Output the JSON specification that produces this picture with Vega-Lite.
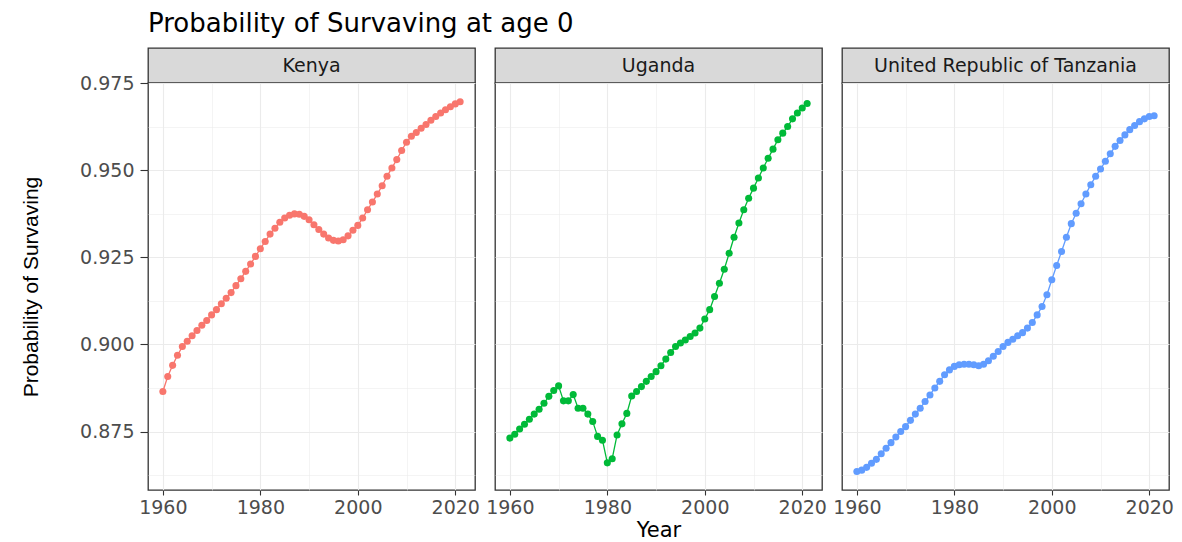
{
  "$schema": "https://vega.github.io/schema/vega-lite/v6.json",
  "background": "white",
  "padding": {"left": 19, "top": 11, "right": 5, "bottom": 5},
  "title": {"text": "Probability of Survaving at age 0", "anchor": "start", "frame": "group", "font": "DejaVu Sans", "fontSize": 26, "fontWeight": "normal", "color": "#000000", "offset": 10},
  "data": {"values": [
    {"country":"Kenya","year":1960,"p":0.8865},{"country":"Kenya","year":1961,"p":0.8908},{"country":"Kenya","year":1962,"p":0.8940},{"country":"Kenya","year":1963,"p":0.8969},{"country":"Kenya","year":1964,"p":0.8994},{"country":"Kenya","year":1965,"p":0.9009},{"country":"Kenya","year":1966,"p":0.9025},{"country":"Kenya","year":1967,"p":0.9040},{"country":"Kenya","year":1968,"p":0.9055},{"country":"Kenya","year":1969,"p":0.9069},
    {"country":"Kenya","year":1970,"p":0.9085},{"country":"Kenya","year":1971,"p":0.9100},{"country":"Kenya","year":1972,"p":0.9117},{"country":"Kenya","year":1973,"p":0.9133},{"country":"Kenya","year":1974,"p":0.9149},{"country":"Kenya","year":1975,"p":0.9169},{"country":"Kenya","year":1976,"p":0.9189},{"country":"Kenya","year":1977,"p":0.9210},{"country":"Kenya","year":1978,"p":0.9231},{"country":"Kenya","year":1979,"p":0.9253},
    {"country":"Kenya","year":1980,"p":0.9275},{"country":"Kenya","year":1981,"p":0.9296},{"country":"Kenya","year":1982,"p":0.9317},{"country":"Kenya","year":1983,"p":0.9334},{"country":"Kenya","year":1984,"p":0.9351},{"country":"Kenya","year":1985,"p":0.9363},{"country":"Kenya","year":1986,"p":0.9371},{"country":"Kenya","year":1987,"p":0.9375},{"country":"Kenya","year":1988,"p":0.9374},{"country":"Kenya","year":1989,"p":0.9368},
    {"country":"Kenya","year":1990,"p":0.9358},{"country":"Kenya","year":1991,"p":0.9344},{"country":"Kenya","year":1992,"p":0.9330},{"country":"Kenya","year":1993,"p":0.9317},{"country":"Kenya","year":1994,"p":0.9306},{"country":"Kenya","year":1995,"p":0.9299},{"country":"Kenya","year":1996,"p":0.9297},{"country":"Kenya","year":1997,"p":0.9301},{"country":"Kenya","year":1998,"p":0.9312},{"country":"Kenya","year":1999,"p":0.9328},
    {"country":"Kenya","year":2000,"p":0.9342},{"country":"Kenya","year":2001,"p":0.9363},{"country":"Kenya","year":2002,"p":0.9387},{"country":"Kenya","year":2003,"p":0.9409},{"country":"Kenya","year":2004,"p":0.9432},{"country":"Kenya","year":2005,"p":0.9456},{"country":"Kenya","year":2006,"p":0.9483},{"country":"Kenya","year":2007,"p":0.9507},{"country":"Kenya","year":2008,"p":0.9531},{"country":"Kenya","year":2009,"p":0.9557},
    {"country":"Kenya","year":2010,"p":0.9581},{"country":"Kenya","year":2011,"p":0.9598},{"country":"Kenya","year":2012,"p":0.9609},{"country":"Kenya","year":2013,"p":0.9621},{"country":"Kenya","year":2014,"p":0.9632},{"country":"Kenya","year":2015,"p":0.9644},{"country":"Kenya","year":2016,"p":0.9655},{"country":"Kenya","year":2017,"p":0.9665},{"country":"Kenya","year":2018,"p":0.9674},{"country":"Kenya","year":2019,"p":0.9683},
    {"country":"Kenya","year":2020,"p":0.9691},{"country":"Kenya","year":2021,"p":0.9697},
    {"country":"Uganda","year":1960,"p":0.8731},{"country":"Uganda","year":1961,"p":0.8742},{"country":"Uganda","year":1962,"p":0.8757},{"country":"Uganda","year":1963,"p":0.8771},{"country":"Uganda","year":1964,"p":0.8785},{"country":"Uganda","year":1965,"p":0.8800},{"country":"Uganda","year":1966,"p":0.8814},{"country":"Uganda","year":1967,"p":0.8831},{"country":"Uganda","year":1968,"p":0.8851},{"country":"Uganda","year":1969,"p":0.8868},
    {"country":"Uganda","year":1970,"p":0.8881},{"country":"Uganda","year":1971,"p":0.8838},{"country":"Uganda","year":1972,"p":0.8838},{"country":"Uganda","year":1973,"p":0.8856},{"country":"Uganda","year":1974,"p":0.8817},{"country":"Uganda","year":1975,"p":0.8817},{"country":"Uganda","year":1976,"p":0.8800},{"country":"Uganda","year":1977,"p":0.8779},{"country":"Uganda","year":1978,"p":0.8736},{"country":"Uganda","year":1979,"p":0.8725},
    {"country":"Uganda","year":1980,"p":0.8660},{"country":"Uganda","year":1981,"p":0.8672},{"country":"Uganda","year":1982,"p":0.8740},{"country":"Uganda","year":1983,"p":0.8772},{"country":"Uganda","year":1984,"p":0.8802},{"country":"Uganda","year":1985,"p":0.8852},{"country":"Uganda","year":1986,"p":0.8865},{"country":"Uganda","year":1987,"p":0.8879},{"country":"Uganda","year":1988,"p":0.8894},{"country":"Uganda","year":1989,"p":0.8908},
    {"country":"Uganda","year":1990,"p":0.8922},{"country":"Uganda","year":1991,"p":0.8939},{"country":"Uganda","year":1992,"p":0.8958},{"country":"Uganda","year":1993,"p":0.8977},{"country":"Uganda","year":1994,"p":0.8994},{"country":"Uganda","year":1995,"p":0.9004},{"country":"Uganda","year":1996,"p":0.9013},{"country":"Uganda","year":1997,"p":0.9023},{"country":"Uganda","year":1998,"p":0.9033},{"country":"Uganda","year":1999,"p":0.9047},
    {"country":"Uganda","year":2000,"p":0.9073},{"country":"Uganda","year":2001,"p":0.9100},{"country":"Uganda","year":2002,"p":0.9138},{"country":"Uganda","year":2003,"p":0.9176},{"country":"Uganda","year":2004,"p":0.9216},{"country":"Uganda","year":2005,"p":0.9262},{"country":"Uganda","year":2006,"p":0.9308},{"country":"Uganda","year":2007,"p":0.9349},{"country":"Uganda","year":2008,"p":0.9387},{"country":"Uganda","year":2009,"p":0.9420},
    {"country":"Uganda","year":2010,"p":0.9449},{"country":"Uganda","year":2011,"p":0.9478},{"country":"Uganda","year":2012,"p":0.9507},{"country":"Uganda","year":2013,"p":0.9535},{"country":"Uganda","year":2014,"p":0.9561},{"country":"Uganda","year":2015,"p":0.9588},{"country":"Uganda","year":2016,"p":0.9607},{"country":"Uganda","year":2017,"p":0.9626},{"country":"Uganda","year":2018,"p":0.9648},{"country":"Uganda","year":2019,"p":0.9665},
    {"country":"Uganda","year":2020,"p":0.9679},{"country":"Uganda","year":2021,"p":0.9692},
    {"country":"United Republic of Tanzania","year":1960,"p":0.8635},{"country":"United Republic of Tanzania","year":1961,"p":0.8639},{"country":"United Republic of Tanzania","year":1962,"p":0.8647},{"country":"United Republic of Tanzania","year":1963,"p":0.8659},{"country":"United Republic of Tanzania","year":1964,"p":0.8670},{"country":"United Republic of Tanzania","year":1965,"p":0.8686},{"country":"United Republic of Tanzania","year":1966,"p":0.8702},{"country":"United Republic of Tanzania","year":1967,"p":0.8718},{"country":"United Republic of Tanzania","year":1968,"p":0.8734},{"country":"United Republic of Tanzania","year":1969,"p":0.8750},
    {"country":"United Republic of Tanzania","year":1970,"p":0.8764},{"country":"United Republic of Tanzania","year":1971,"p":0.8782},{"country":"United Republic of Tanzania","year":1972,"p":0.8800},{"country":"United Republic of Tanzania","year":1973,"p":0.8817},{"country":"United Republic of Tanzania","year":1974,"p":0.8836},{"country":"United Republic of Tanzania","year":1975,"p":0.8855},{"country":"United Republic of Tanzania","year":1976,"p":0.8875},{"country":"United Republic of Tanzania","year":1977,"p":0.8894},{"country":"United Republic of Tanzania","year":1978,"p":0.8913},{"country":"United Republic of Tanzania","year":1979,"p":0.8927},
    {"country":"United Republic of Tanzania","year":1980,"p":0.8937},{"country":"United Republic of Tanzania","year":1981,"p":0.8942},{"country":"United Republic of Tanzania","year":1982,"p":0.8943},{"country":"United Republic of Tanzania","year":1983,"p":0.8943},{"country":"United Republic of Tanzania","year":1984,"p":0.8942},{"country":"United Republic of Tanzania","year":1985,"p":0.8939},{"country":"United Republic of Tanzania","year":1986,"p":0.8943},{"country":"United Republic of Tanzania","year":1987,"p":0.8953},{"country":"United Republic of Tanzania","year":1988,"p":0.8966},{"country":"United Republic of Tanzania","year":1989,"p":0.8980},
    {"country":"United Republic of Tanzania","year":1990,"p":0.8994},{"country":"United Republic of Tanzania","year":1991,"p":0.9006},{"country":"United Republic of Tanzania","year":1992,"p":0.9015},{"country":"United Republic of Tanzania","year":1993,"p":0.9025},{"country":"United Republic of Tanzania","year":1994,"p":0.9034},{"country":"United Republic of Tanzania","year":1995,"p":0.9047},{"country":"United Republic of Tanzania","year":1996,"p":0.9063},{"country":"United Republic of Tanzania","year":1997,"p":0.9085},{"country":"United Republic of Tanzania","year":1998,"p":0.9109},{"country":"United Republic of Tanzania","year":1999,"p":0.9143},
    {"country":"United Republic of Tanzania","year":2000,"p":0.9186},{"country":"United Republic of Tanzania","year":2001,"p":0.9227},{"country":"United Republic of Tanzania","year":2002,"p":0.9267},{"country":"United Republic of Tanzania","year":2003,"p":0.9308},{"country":"United Republic of Tanzania","year":2004,"p":0.9347},{"country":"United Republic of Tanzania","year":2005,"p":0.9377},{"country":"United Republic of Tanzania","year":2006,"p":0.9404},{"country":"United Republic of Tanzania","year":2007,"p":0.9432},{"country":"United Republic of Tanzania","year":2008,"p":0.9459},{"country":"United Republic of Tanzania","year":2009,"p":0.9483},
    {"country":"United Republic of Tanzania","year":2010,"p":0.9504},{"country":"United Republic of Tanzania","year":2011,"p":0.9526},{"country":"United Republic of Tanzania","year":2012,"p":0.9548},{"country":"United Republic of Tanzania","year":2013,"p":0.9569},{"country":"United Republic of Tanzania","year":2014,"p":0.9586},{"country":"United Republic of Tanzania","year":2015,"p":0.9602},{"country":"United Republic of Tanzania","year":2016,"p":0.9617},{"country":"United Republic of Tanzania","year":2017,"p":0.9629},{"country":"United Republic of Tanzania","year":2018,"p":0.9640},{"country":"United Republic of Tanzania","year":2019,"p":0.9648},
    {"country":"United Republic of Tanzania","year":2020,"p":0.9655},{"country":"United Republic of Tanzania","year":2021,"p":0.9657}
  ]},
  "bounds": "flush",
  "columns": 3,
  "spacing": {"row": 0, "column": 20},
  "concat": [
    {
      "width": 327, "height": 35,
      "view": {"fill": "#D9D9D9", "stroke": "#333333", "strokeWidth": 1.3},
      "data": {"values": [{"country": "Kenya"}]},
      "mark": {"type": "text", "font": "DejaVu Sans", "fontSize": 19, "color": "#1A1A1A", "clip": true},
      "encoding": {"text": {"field": "country"}}
    },
    {
      "width": 327, "height": 35,
      "view": {"fill": "#D9D9D9", "stroke": "#333333", "strokeWidth": 1.3},
      "data": {"values": [{"country": "Uganda"}]},
      "mark": {"type": "text", "font": "DejaVu Sans", "fontSize": 19, "color": "#1A1A1A", "clip": true},
      "encoding": {"text": {"field": "country"}}
    },
    {
      "width": 327, "height": 35,
      "view": {"fill": "#D9D9D9", "stroke": "#333333", "strokeWidth": 1.3},
      "data": {"values": [{"country": "United Republic of Tanzania"}]},
      "mark": {"type": "text", "font": "DejaVu Sans", "fontSize": 19, "color": "#1A1A1A", "clip": true},
      "encoding": {"text": {"field": "country"}}
    },
    {
      "width": 327, "height": 407,
      "view": {"fill": "white", "stroke": "#333333", "strokeWidth": 1.3},
      "transform": [{"filter": "datum.country == 'Kenya'"}],
      "encoding": {
        "x": {"field": "year", "type": "quantitative", "scale": {"domain": [1956.95, 2024.05], "nice": false, "zero": false},
              "axis": {"title": null, "values": [1960,1970,1980,1990,2000,2010,2020], "format": "d", "labelExpr": "datum.value % 20 == 0 ? datum.label : ''",
                       "gridWidth": {"condition": {"test": "datum.value % 20 == 0", "value": 1.1}, "value": 0.55},
                       "tickOpacity": {"condition": {"test": "datum.value % 20 == 0", "value": 1}, "value": 0}}},
        "y": {"field": "p", "type": "quantitative", "scale": {"domain": [0.8582, 0.9751], "nice": false, "zero": false},
              "axis": {"title": "Probability of Survaving", "values": [0.8625,0.875,0.8875,0.9,0.9125,0.925,0.9375,0.95,0.9625,0.975], "format": ".3f",
                       "labelExpr": "round(datum.value*1000) % 25 == 0 ? datum.label : ''",
                       "gridWidth": {"condition": {"test": "round(datum.value*1000) % 25 == 0", "value": 1.1}, "value": 0.55},
                       "tickOpacity": {"condition": {"test": "round(datum.value*1000) % 25 == 0", "value": 1}, "value": 0}}}
      },
      "layer": [
        {"mark": {"type": "line", "color": "#F8766D", "strokeWidth": 1.3}, "encoding": {}},
        {"mark": {"type": "circle", "color": "#F8766D", "size": 50, "opacity": 1}, "encoding": {}}
      ]
    },
    {
      "width": 327, "height": 407,
      "view": {"fill": "white", "stroke": "#333333", "strokeWidth": 1.3},
      "transform": [{"filter": "datum.country == 'Uganda'"}],
      "encoding": {
        "x": {"field": "year", "type": "quantitative", "scale": {"domain": [1956.95, 2024.05], "nice": false, "zero": false},
              "axis": {"title": "Year", "values": [1960,1970,1980,1990,2000,2010,2020], "format": "d", "labelExpr": "datum.value % 20 == 0 ? datum.label : ''",
                       "gridWidth": {"condition": {"test": "datum.value % 20 == 0", "value": 1.1}, "value": 0.55},
                       "tickOpacity": {"condition": {"test": "datum.value % 20 == 0", "value": 1}, "value": 0}}},
        "y": {"field": "p", "type": "quantitative", "scale": {"domain": [0.8582, 0.9751], "nice": false, "zero": false},
              "axis": {"title": null, "labels": false, "ticks": false, "values": [0.8625,0.875,0.8875,0.9,0.9125,0.925,0.9375,0.95,0.9625,0.975],
                       "gridWidth": {"condition": {"test": "round(datum.value*1000) % 25 == 0", "value": 1.1}, "value": 0.55}}}
      },
      "layer": [
        {"mark": {"type": "line", "color": "#00BA38", "strokeWidth": 1.3}, "encoding": {}},
        {"mark": {"type": "circle", "color": "#00BA38", "size": 50, "opacity": 1}, "encoding": {}}
      ]
    },
    {
      "width": 327, "height": 407,
      "view": {"fill": "white", "stroke": "#333333", "strokeWidth": 1.3},
      "transform": [{"filter": "datum.country == 'United Republic of Tanzania'"}],
      "encoding": {
        "x": {"field": "year", "type": "quantitative", "scale": {"domain": [1956.95, 2024.05], "nice": false, "zero": false},
              "axis": {"title": null, "values": [1960,1970,1980,1990,2000,2010,2020], "format": "d", "labelExpr": "datum.value % 20 == 0 ? datum.label : ''",
                       "gridWidth": {"condition": {"test": "datum.value % 20 == 0", "value": 1.1}, "value": 0.55},
                       "tickOpacity": {"condition": {"test": "datum.value % 20 == 0", "value": 1}, "value": 0}}},
        "y": {"field": "p", "type": "quantitative", "scale": {"domain": [0.8582, 0.9751], "nice": false, "zero": false},
              "axis": {"title": null, "labels": false, "ticks": false, "values": [0.8625,0.875,0.8875,0.9,0.9125,0.925,0.9375,0.95,0.9625,0.975],
                       "gridWidth": {"condition": {"test": "round(datum.value*1000) % 25 == 0", "value": 1.1}, "value": 0.55}}}
      },
      "layer": [
        {"mark": {"type": "line", "color": "#619CFF", "strokeWidth": 1.3}, "encoding": {}},
        {"mark": {"type": "circle", "color": "#619CFF", "size": 50, "opacity": 1}, "encoding": {}}
      ]
    }
  ],
  "config": {
    "axis": {
      "domain": false,
      "grid": true,
      "gridColor": "#EBEBEB",
      "tickColor": "#333333",
      "tickWidth": 1.1,
      "labelFont": "DejaVu Sans",
      "labelFontSize": 19,
      "labelColor": "#4D4D4D",
      "labelOverlap": false,
      "labelFlush": false,
      "labelBound": false,
      "titleFont": "Liberation Sans",
      "titleFontWeight": "normal",
      "titleColor": "#000000"
    },
    "axisX": {"titleFontSize": 21, "titleFont": "DejaVu Sans", "titlePadding": 2, "tickSize": 5, "labelPadding": 3},
    "axisY": {"titleFontSize": 21, "titlePadding": 38, "tickSize": 8, "labelPadding": 6}
  }
}
